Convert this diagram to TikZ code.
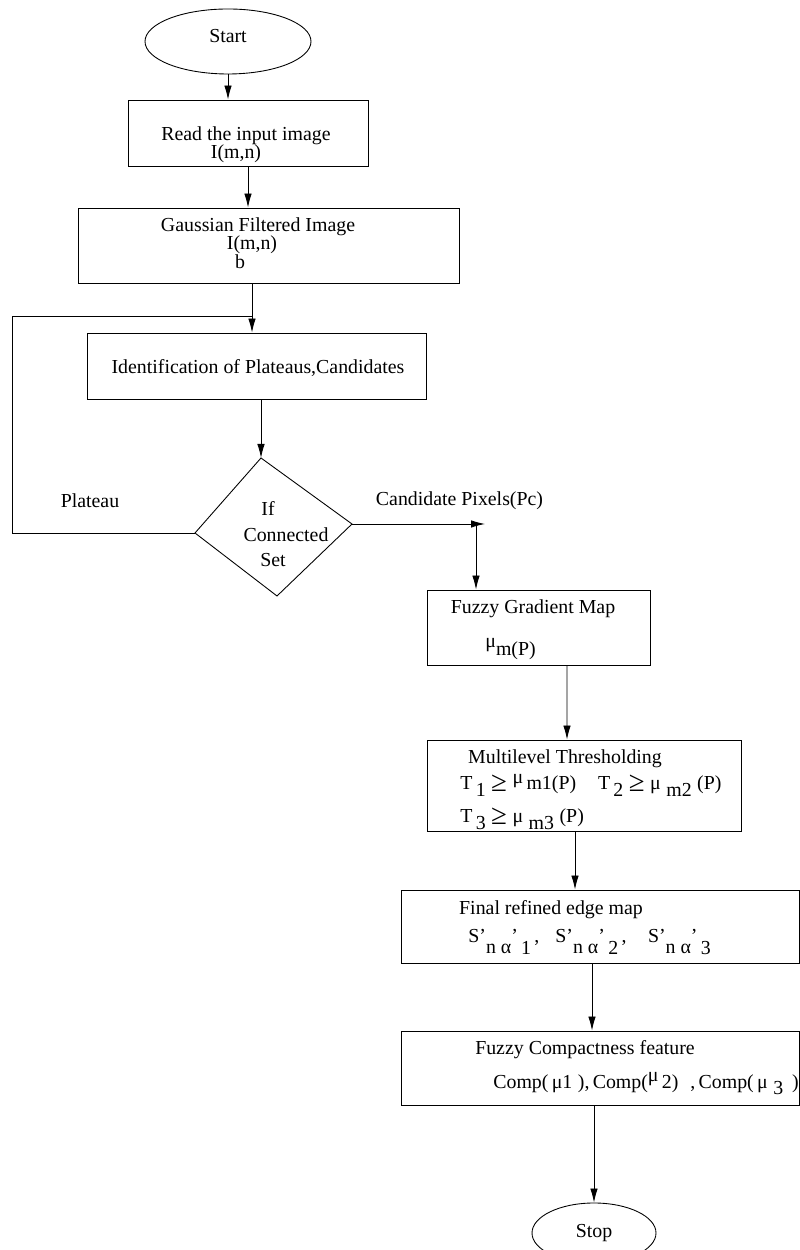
\documentclass[tikz,border=0pt]{standalone}
\usepackage{fontspec}
\usepackage{graphicx}
\setmainfont{Liberation Serif}
\usetikzlibrary{shapes.geometric,arrows.meta}
\newcommand{\bgeq}{\raisebox{-0.08em}{\scalebox{1.45}{≥}}}
\tikzset{
  blk/.style={draw, rectangle, line width=0.5pt, inner sep=0pt},
  term/.style={draw, ellipse, line width=0.5pt, inner sep=0pt},
  txt/.style={inner sep=0pt, font=\fontsize{11.3}{13}\selectfont},
  arr/.style={line width=0.5pt, -{Latex[length=2.8mm,width=1.5mm]}},
  ln/.style={line width=0.5pt},
}
\begin{document}
\begin{tikzpicture}
\useasboundingbox (0,0) rectangle (16,25);
% terminals
\node[term, minimum width=3.32cm, minimum height=1.3cm] (start) at (4.56,24.17) {};
\node[term, minimum width=2.48cm, minimum height=1.2cm] (stop) at (11.88,0.34) {};
% process boxes
\node[blk, minimum width=4.8cm, minimum height=1.32cm] (read) at (4.96,22.34) {};
\node[blk, minimum width=7.62cm, minimum height=1.5cm] (gauss) at (5.37,20.09) {};
\node[blk, minimum width=6.78cm, minimum height=1.32cm] (ident) at (5.13,17.68) {};
\node[blk, minimum width=4.46cm, minimum height=1.5cm] (fgm) at (10.77,12.45) {};
\node[blk, minimum width=6.28cm, minimum height=1.82cm] (mlt) at (11.68,9.29) {};
\node[blk, minimum width=7.96cm, minimum height=1.46cm] (frem) at (12,6.47) {};
\node[blk, minimum width=7.96cm, minimum height=1.48cm] (fcf) at (12,3.64) {};
% decision
\coordinate (dtop) at (5.22,15.84);
\coordinate (dright) at (7.04,14.52);
\coordinate (dbot) at (5.54,13.08);
\coordinate (dleft) at (3.9,14.34);
\draw[ln] (dtop) -- (dright) -- (dbot) -- (dleft) -- cycle;
% loop and branch points
\coordinate (lpbot) at (0.24,14.34);
\coordinate (lptop) at (0.24,18.68);
\coordinate (gi) at (5.04,18.68); %joins arrow
\coordinate (cand) at (9.7,14.52);
\coordinate (cdown) at (9.52,14.52);

% texts
\node[txt] (tstart) at (4.56,24.28) {Start};
\node[txt] (tread1) at (4.92,22.28) {Read the input image};
\node[txt] (tread2) at (4.72,21.92) {I(m,n)};
\node[txt] (tgauss1) at (5.16,20.46) {Gaussian Filtered Image};
\node[txt] (tgauss2) at (5.04,20.1) {I(m,n)};
\node[txt] (tgauss3) at (4.8,19.76) {b};
\node[txt] (tident) at (5.16,17.64) {Identification of Plateaus,Candidates};
\node[txt] (tif) at (5.36,14.82) {If};
\node[txt] (tcon) at (5.72,14.3) {Connected};
\node[txt] (tset) at (5.46,13.8) {Set};
\node[txt] (tplat) at (1.8,14.98) {Plateau};
\node[txt] (tcand) at (9.19,14.98) {Candidate Pixels(Pc)};
\node[txt] (tfgm1) at (10.66,12.82) {Fuzzy Gradient Map};
\node[txt, anchor=base west] (tfgm2) at (9.7,11.88) {\raisebox{0.45em}{μ}m(P)};
\node[txt] (tmlt1) at (11.3,9.82) {Multilevel Thresholding};
\node[txt, anchor=base west] (tmlt2) at (9.2,9.2)
  {T\raisebox{-0.35em}{\,1}\;\bgeq\;\raisebox{0.35em}{μ}\,m1(P)\hspace{1.1em}T\raisebox{-0.35em}{\,2}\;\bgeq\;μ\;\raisebox{-0.35em}{m2}\;(P)};
\node[txt, anchor=base west] (tmlt3) at (9.2,8.54)
  {T\raisebox{-0.35em}{\,3}\;\bgeq\;μ\;\raisebox{-0.35em}{m3}\;(P)};
\node[txt] (tfrem1) at (11.02,6.8) {Final refined edge map};
\node[txt, anchor=base west] (tfrem2) at (9.36,6.14)
  {S’\raisebox{-0.55em}{n α}’\raisebox{-0.6em}{\,1}\,,\;\; S’\raisebox{-0.55em}{n α}’\raisebox{-0.6em}{\,2}\,,\;\;\; S’\raisebox{-0.55em}{n α}’\raisebox{-0.6em}{\,3}};
\node[txt] (tfcf1) at (11.7,4.0) {Fuzzy Compactness feature};
\node[txt, anchor=base west] (tfcf2) at (9.86,3.22)
  {Comp(\,μ1\;),\,Comp(\raisebox{0.4em}{μ}\,2)\hspace{0.6em},\,Comp(\,μ\;\raisebox{-0.3em}{3}\;\,)};
\node[txt] (tstop) at (11.88,0.34) {Stop};

% connectors
\draw[arr] (start.south) -- (start.south |- read.north);
\draw[arr] (read.south) -- (read.south |- gauss.north);
\draw[arr] (gauss.south -| gi) -- (ident.north -| gi);
\draw[arr] (ident.south -| dtop) -- (dtop);
\draw[ln] (dleft) -- (lpbot) -- (lptop) -- (gi); %plateau loop
\draw[arr] (dright) -- (cand);
\draw[arr] (cdown) -- (cdown |- fgm.north);
\draw[arr] ([xshift=0.57cm]fgm.south) -- ([xshift=-0.34cm]mlt.north);
\draw[arr] ([xshift=-0.18cm]mlt.south) -- ([xshift=-0.5cm]frem.north);
\draw[arr] ([xshift=-0.16cm]frem.south) -- ([xshift=-0.16cm]fcf.north);
\draw[arr] (fcf.south -| stop.north) -- (stop.north);
\end{tikzpicture}
\end{document}
